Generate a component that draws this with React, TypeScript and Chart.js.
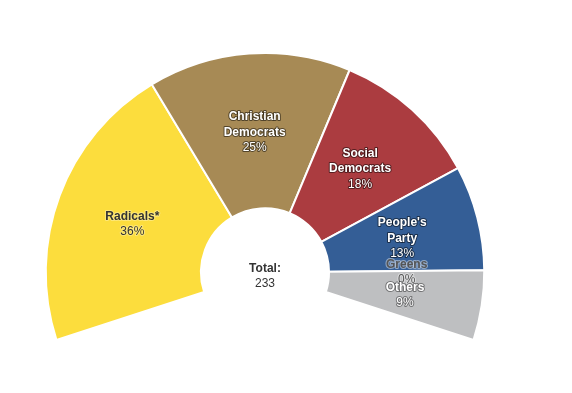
import React, { useEffect, useRef } from "react";
import { Chart, registerables } from "chart.js";

Chart.register(...registerables);

const parties = ["Radicals*", "Christian Democrats", "Social Democrats", "People's Party", "Greens", "Others"];
const nameLines = [["Radicals*"], ["Christian", "Democrats"], ["Social", "Democrats"], ["People's", "Party"], ["Greens"], ["Others"]];
const seats = [83, 58, 42, 30, 0, 20];
const colors = ["#FCDD3D", "#A78A55", "#AB3C40", "#345E96", "#6BA547", "#BEBFC1"];
const labelFill = ["#333333", "#FFFFFF", "#FFFFFF", "#FFFFFF", "#555555", "#FFFFFF"];
const labelStroke = ["rgba(255,255,255,0.3)", "rgba(0,0,0,0.5)", "rgba(0,0,0,0.5)", "rgba(0,0,0,0.5)", "rgba(255,255,255,0.45)", "rgba(0,0,0,0.4)"];

const FONT = "'Liberation Sans', Arial, Helvetica, sans-serif";

const labelPlugin = {
  id: "sliceLabels",
  afterDatasetsDraw(chart: any) {
    const ctx = chart.ctx;
    const meta = chart.getDatasetMeta(0);
    const total = seats.reduce((a, b) => a + b, 0);
    ctx.save();
    ctx.textAlign = "center";
    ctx.textBaseline = "middle";
    ctx.lineJoin = "round";
    meta.data.forEach((arc: any, i: number) => {
      const p = arc.getCenterPoint();
      const lines = nameLines[i];
      const pct = Math.round((seats[i] / total) * 100) + "%";
      const all = [...lines.map((t) => ({ t, bold: true })), { t: pct, bold: false }];
      const lh = 15.5;
      const y0 = p.y + 1.5 - ((all.length - 1) * lh) / 2;
      all.forEach((ln, k) => {
        ctx.font = (ln.bold ? "bold " : "") + "12px " + FONT;
        const y = y0 + k * lh;
        ctx.lineWidth = 2;
        ctx.strokeStyle = labelStroke[i];
        ctx.strokeText(ln.t, p.x, y);
        ctx.fillStyle = labelFill[i];
        ctx.fillText(ln.t, p.x, y);
      });
    });
    const a0 = meta.data[0];
    if (a0) {
      ctx.fillStyle = "#333333";
      ctx.font = "bold 12px " + FONT;
      ctx.fillText("Total:", a0.x, a0.y - 4);
      ctx.font = "12px " + FONT;
      ctx.fillText(String(total), a0.x, a0.y + 11);
    }
    ctx.restore();
  },
};

export default function App() {
  const ref = useRef<HTMLCanvasElement | null>(null);
  useEffect(() => {
    if (!ref.current) return;
    const chart = new Chart(ref.current, {
      type: "doughnut",
      data: {
        labels: parties,
        datasets: [
          {
            data: seats,
            backgroundColor: colors,
            borderColor: "#FFFFFF",
            borderWidth: 2,
          },
        ],
      },
      options: {
        responsive: false,
        animation: false,
        rotation: -108,
        circumference: 216,
        cutout: "29.2%",
        layout: { padding: { left: 35, right: 77, top: 52, bottom: 52 } },
        plugins: {
          legend: { display: false },
          tooltip: { enabled: false },
        },
      },
      plugins: [labelPlugin],
    });
    return () => chart.destroy();
  }, []);
  return (
    <div style={{ position: "absolute", left: 0, top: 0, width: 572, height: 393, background: "#fff" }}>
      <canvas ref={ref} width={572} height={393} />
    </div>
  );
}
